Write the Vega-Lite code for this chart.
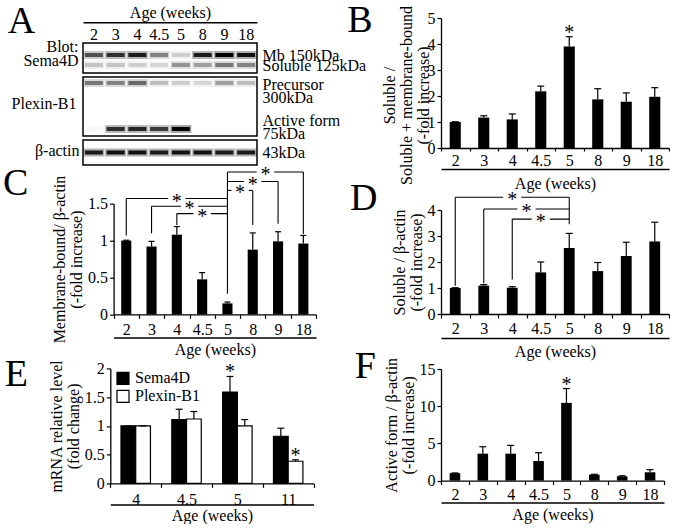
{
"$schema": "https://vega.github.io/schema/vega-lite/v6.json",
"background": "white",
"padding": {"left": 2, "top": 1, "right": 0, "bottom": 0},
"datasets": {
 "blotSema": [
  {"lane":"2","band":"Mb 150kDa","intensity":0.6},{"lane":"3","band":"Mb 150kDa","intensity":0.75},{"lane":"4","band":"Mb 150kDa","intensity":0.85},{"lane":"4.5","band":"Mb 150kDa","intensity":0.4},{"lane":"5","band":"Mb 150kDa","intensity":0.15},{"lane":"8","band":"Mb 150kDa","intensity":0.85},{"lane":"9","band":"Mb 150kDa","intensity":1.0},{"lane":"18","band":"Mb 150kDa","intensity":0.9},
  {"lane":"2","band":"Soluble 125kDa","intensity":0.18},{"lane":"3","band":"Soluble 125kDa","intensity":0.18},{"lane":"4","band":"Soluble 125kDa","intensity":0.15},{"lane":"4.5","band":"Soluble 125kDa","intensity":0.12},{"lane":"5","band":"Soluble 125kDa","intensity":0.35},{"lane":"8","band":"Soluble 125kDa","intensity":0.3},{"lane":"9","band":"Soluble 125kDa","intensity":0.45},{"lane":"18","band":"Soluble 125kDa","intensity":0.4}
 ],
 "blotPlexin": [
  {"lane":"2","band":"Precursor 300kDa","intensity":0.45},{"lane":"3","band":"Precursor 300kDa","intensity":0.4},{"lane":"4","band":"Precursor 300kDa","intensity":0.5},{"lane":"4.5","band":"Precursor 300kDa","intensity":0.2},{"lane":"5","band":"Precursor 300kDa","intensity":0.15},{"lane":"8","band":"Precursor 300kDa","intensity":0.12},{"lane":"9","band":"Precursor 300kDa","intensity":0.3},{"lane":"18","band":"Precursor 300kDa","intensity":0.2},
  {"lane":"2","band":"Active form 75kDa","intensity":0.02},{"lane":"3","band":"Active form 75kDa","intensity":0.75},{"lane":"4","band":"Active form 75kDa","intensity":0.8},{"lane":"4.5","band":"Active form 75kDa","intensity":0.7},{"lane":"5","band":"Active form 75kDa","intensity":1.0},{"lane":"8","band":"Active form 75kDa","intensity":0.0},{"lane":"9","band":"Active form 75kDa","intensity":0.0},{"lane":"18","band":"Active form 75kDa","intensity":0.0}
 ],
 "blotActin": [
  {"lane":"2","band":"43kDa","intensity":0.85},{"lane":"3","band":"43kDa","intensity":0.9},{"lane":"4","band":"43kDa","intensity":0.9},{"lane":"4.5","band":"43kDa","intensity":0.85},{"lane":"5","band":"43kDa","intensity":0.9},{"lane":"8","band":"43kDa","intensity":0.9},{"lane":"9","band":"43kDa","intensity":0.85},{"lane":"18","band":"43kDa","intensity":0.85}
 ],
 "B": [
  {"age":"2","mean":1.0,"err":1.01,"sig":false},{"age":"3","mean":1.17,"err":1.24,"sig":false},{"age":"4","mean":1.10,"err":1.31,"sig":false},{"age":"4.5","mean":2.18,"err":2.38,"sig":false},{"age":"5","mean":3.90,"err":4.28,"sig":true},{"age":"8","mean":1.87,"err":2.28,"sig":false},{"age":"9","mean":1.78,"err":2.12,"sig":false},{"age":"18","mean":1.97,"err":2.32,"sig":false}
 ],
 "C": [
  {"age":"2","mean":1.0,"err":1.005},{"age":"3","mean":0.92,"err":0.99},{"age":"4","mean":1.08,"err":1.19},{"age":"4.5","mean":0.475,"err":0.566},{"age":"5","mean":0.149,"err":0.167},{"age":"8","mean":0.878,"err":1.104},{"age":"9","mean":0.99,"err":1.12},{"age":"18","mean":0.96,"err":1.07}
 ],
 "Cv": [
  {"x":"2","y1":1.07,"y2":1.57},{"x":"3","y1":1.10,"y2":1.465},{"x":"4","y1":1.21,"y2":1.366},{"x":"5","y1":0.28,"y2":1.93},{"x":"8","y1":1.21,"y2":1.68},{"x":"9","y1":1.23,"y2":1.80},{"x":"18","y1":1.09,"y2":1.93}
 ],
 "Ch": [
  {"from":"2","to":"5","level":1.57,"star":"4","at":"center"},{"from":"3","to":"5","level":1.465,"star":"4","at":"edge"},{"from":"4","to":"5","level":1.366,"star":"4.5","at":"center"},{"from":"5","to":"8","level":1.68,"star":"5","at":"edge"},{"from":"5","to":"9","level":1.80,"star":"8","at":"center"},{"from":"5","to":"18","level":1.93,"star":"8","at":"edge"}
 ],
 "D": [
  {"age":"2","mean":1.0,"err":1.01},{"age":"3","mean":1.09,"err":1.13},{"age":"4","mean":1.01,"err":1.05},{"age":"4.5","mean":1.60,"err":2.0},{"age":"5","mean":2.54,"err":3.10},{"age":"8","mean":1.65,"err":1.98},{"age":"9","mean":2.23,"err":2.76},{"age":"18","mean":2.79,"err":3.53}
 ],
 "Dv": [
  {"x":"2","y1":1.09,"y2":4.49},{"x":"3","y1":1.18,"y2":4.04},{"x":"4","y1":1.33,"y2":3.65},{"x":"5","y1":3.45,"y2":4.49}
 ],
 "Dh": [
  {"from":"2","to":"5","level":4.49,"star":"4","at":"center"},{"from":"3","to":"5","level":4.04,"star":"4","at":"edge"},{"from":"4","to":"5","level":3.65,"star":"4.5","at":"center"}
 ],
 "E": [
  {"age":"4","gene":"Sema4D","mean":1.0,"err":1.0,"sig":false},{"age":"4","gene":"Plexin-B1","mean":1.0,"err":1.0,"sig":false},
  {"age":"4.5","gene":"Sema4D","mean":1.11,"err":1.29,"sig":false},{"age":"4.5","gene":"Plexin-B1","mean":1.12,"err":1.25,"sig":false},
  {"age":"5","gene":"Sema4D","mean":1.59,"err":1.86,"sig":true},{"age":"5","gene":"Plexin-B1","mean":1.0,"err":1.11,"sig":false},
  {"age":"11","gene":"Sema4D","mean":0.82,"err":0.96,"sig":false},{"age":"11","gene":"Plexin-B1","mean":0.385,"err":0.41,"sig":true}
 ],
 "F": [
  {"age":"2","mean":1.0,"err":1.03,"sig":false},{"age":"3","mean":3.62,"err":4.55,"sig":false},{"age":"4","mean":3.62,"err":4.73,"sig":false},{"age":"4.5","mean":2.63,"err":3.75,"sig":false},{"age":"5","mean":10.45,"err":12.37,"sig":true},{"age":"8","mean":0.80,"err":0.85,"sig":false},{"age":"9","mean":0.58,"err":0.65,"sig":false},{"age":"18","mean":1.12,"err":1.47,"sig":false}
 ]
},
"concat": [
 {
  "concat": [
   {
    "vconcat": [
     {
      "width": 174, "height": 20.3,
      "data": {"name": "blotActin"},
      "mark": {"type": "tick", "opacity": 0},
      "encoding": {
       "x": {"field": "lane", "type": "ordinal", "scale": {"domain": ["2","3","4","4.5","5","8","9","18"], "paddingInner": 0, "paddingOuter": 0}, "axis": {"orient": "top", "offset": -4.3, "ticks": false, "domainWidth": 1.5, "labelAngle": 0, "labelPadding": -11.7, "labelBaseline": "middle", "title": "Age (weeks)", "titlePadding": 2}}
      }
     },
     {
      "width": 174, "height": 30,
      "view": {"stroke": "black", "strokeWidth": 1.5, "fill": "white"},
      "data": {"name": "blotSema"},
      "layer": [
       {"mark": {"type": "tick", "orient": "horizontal", "color": "black", "size": 21, "thickness": 8, "fillOpacity": 0.35},
        "encoding": {
         "x": {"field": "lane", "type": "ordinal", "scale": {"domain": ["2","3","4","4.5","5","8","9","18"], "paddingInner": 0, "paddingOuter": 0}, "axis": null},
         "y": {"field": "band", "type": "ordinal", "scale": {"type": "point", "domain": ["Mb 150kDa", "Soluble 125kDa"], "padding": 1, "align": 0.6}, "axis": {"orient": "right", "ticks": false, "domain": false, "labelPadding": 5, "labelBaseline": "middle", "title": null}},
         "opacity": {"field": "intensity", "type": "quantitative", "scale": {"domain": [0, 1], "range": [0, 1]}, "legend": null}
        }},
       {"mark": {"type": "tick", "orient": "horizontal", "color": "black", "size": 18, "thickness": 4, "fillOpacity": 1},
        "encoding": {
         "x": {"field": "lane", "type": "ordinal", "axis": {"orient": "top", "domain": false, "labels": false, "ticks": false, "title": "A", "titleFontSize": 38, "titleAlign": "left", "titleBaseline": "top", "titleX": -75.7, "titleY": -41}},
         "y": {"field": "band", "type": "ordinal", "axis": {"orient": "left", "labels": false, "ticks": false, "domain": false, "title": ["Blot:", "Sema4D"], "titleAngle": 0, "titleAlign": "right", "titleBaseline": "middle", "titleX": -5, "titleY": 3, "titleLineHeight": 14}},
         "opacity": {"field": "intensity", "type": "quantitative", "legend": null}
        }}
      ],
      "resolve": {"axis": {"x": "independent", "y": "independent"}}
     },
     {
      "width": 174, "height": 59,
      "view": {"stroke": "black", "strokeWidth": 1.5, "fill": "white"},
      "data": {"name": "blotPlexin"},
      "layer": [
       {"mark": {"type": "tick", "orient": "horizontal", "color": "black", "size": 21, "thickness": 8, "fillOpacity": 0.35},
        "encoding": {
         "x": {"field": "lane", "type": "ordinal", "scale": {"domain": ["2","3","4","4.5","5","8","9","18"], "paddingInner": 0, "paddingOuter": 0}, "axis": null},
         "y": {"field": "band", "type": "ordinal", "scale": {"type": "point", "domain": ["Precursor 300kDa", "Active form 75kDa"], "padding": 0.141, "align": 0.46}, "axis": {"orient": "right", "ticks": false, "domain": false, "labelPadding": 5, "labelBaseline": "middle", "labelLineHeight": 13, "labelOffset": {"condition": {"test": "datum.value == 'Precursor 300kDa'", "value": 2}, "value": -8}, "labelExpr": "[slice(datum.label, 0, lastindexof(datum.label, ' ')), slice(datum.label, lastindexof(datum.label, ' ') + 1)]", "title": null}},
         "opacity": {"field": "intensity", "type": "quantitative", "scale": {"domain": [0, 1], "range": [0, 1]}, "legend": null}
        }},
       {"mark": {"type": "tick", "orient": "horizontal", "color": "black", "size": 18, "thickness": 4, "fillOpacity": 1},
        "encoding": {
         "x": {"field": "lane", "type": "ordinal", "axis": null},
         "y": {"field": "band", "type": "ordinal", "axis": {"orient": "left", "labels": false, "ticks": false, "domain": false, "title": "Plexin-B1", "titleAngle": 0, "titleAlign": "right", "titleBaseline": "middle", "titleX": -7, "titleY": 26}},
         "opacity": {"field": "intensity", "type": "quantitative", "legend": null}
        }}
      ],
      "resolve": {"axis": {"x": "independent", "y": "independent"}}
     },
     {
      "width": 174, "height": 25,
      "view": {"stroke": "black", "strokeWidth": 1.5, "fill": "white"},
      "data": {"name": "blotActin"},
      "layer": [
       {"mark": {"type": "tick", "orient": "horizontal", "color": "black", "size": 21, "thickness": 8, "fillOpacity": 0.35},
        "encoding": {
         "x": {"field": "lane", "type": "ordinal", "scale": {"domain": ["2","3","4","4.5","5","8","9","18"], "paddingInner": 0, "paddingOuter": 0}, "axis": null},
         "y": {"field": "band", "type": "ordinal", "scale": {"type": "point", "domain": ["43kDa"]}, "axis": {"orient": "right", "ticks": false, "domain": false, "labelPadding": 5, "labelBaseline": "middle", "title": null}},
         "opacity": {"field": "intensity", "type": "quantitative", "scale": {"domain": [0, 1], "range": [0, 1]}, "legend": null}
        }},
       {"mark": {"type": "tick", "orient": "horizontal", "color": "black", "size": 18, "thickness": 4, "fillOpacity": 1},
        "encoding": {
         "x": {"field": "lane", "type": "ordinal", "axis": null},
         "y": {"field": "band", "type": "ordinal", "axis": {"orient": "left", "labels": false, "ticks": false, "domain": false, "title": "β-actin", "titleAngle": 0, "titleAlign": "right", "titleBaseline": "middle", "titleX": -4, "titleY": 10}},
         "opacity": {"field": "intensity", "type": "quantitative", "legend": null}
        }}
      ],
      "resolve": {"axis": {"x": "independent", "y": "independent"}}
     }
    ],
    "spacing": 4,
    "bounds": "flush",
    "align": "none"
   },
   {
    "width": 233, "height": 110.7,
    "title": {"text": "C", "orient": "left", "anchor": "end", "frame": "group", "angle": 0, "align": "right", "baseline": "top", "offset": -2, "dy": -39},
    "layer": [
     {"data": {"name": "C"}, "mark": {"type": "bar", "color": "black", "width": {"band": 0.4}},
      "encoding": {
       "x": {"field": "age", "type": "ordinal", "scale": {"domain": ["2","3","4","4.5","5","8","9","18"], "paddingInner": 0, "paddingOuter": 0, "rangeMin": 30.6}, "axis": {"orient": "bottom", "title": null, "tickBand": "extent", "tickSize": 4, "labelPadding": 3, "labelAngle": 0}},
       "y": {"field": "mean", "type": "quantitative", "scale": {"domain": [0, 1.5], "nice": false}, "axis": {"offset": -30.6, "values": [0, 0.5, 1, 1.5], "format": "~g", "title": ["Membrane-bound/ β-actin", "(-fold increase)"], "titlePadding": 3}}
      }},
     {"data": {"name": "C"}, "mark": {"type": "rule", "color": "black", "strokeWidth": 1.2},
      "encoding": {
       "x": {"field": "age", "type": "ordinal", "axis": {"orient": "bottom", "offset": 23, "labels": false, "ticks": false, "domainWidth": 1.5, "title": "Age (weeks)", "titlePadding": 4}},
       "y": {"field": "mean", "type": "quantitative", "axis": null},
       "y2": {"field": "err"}
      }},
     {"data": {"name": "C"}, "mark": {"type": "tick", "orient": "horizontal", "color": "black", "size": 6, "thickness": 1.2, "opacity": 1},
      "encoding": {"x": {"field": "age", "type": "ordinal", "axis": null}, "y": {"field": "err", "type": "quantitative", "axis": null}}},
     {"data": {"name": "Cv"}, "mark": {"type": "rule", "color": "black", "strokeWidth": 1.1},
      "encoding": {"x": {"field": "x", "type": "ordinal", "axis": null}, "y": {"field": "y1", "type": "quantitative", "axis": null}, "y2": {"field": "y2"}}},
     {"data": {"name": "Ch"}, "mark": {"type": "rule", "color": "black", "strokeWidth": 1.1},
      "encoding": {"x": {"field": "from", "type": "ordinal", "axis": null}, "x2": {"field": "to"}, "y": {"field": "level", "type": "quantitative", "axis": null}}},
     {"data": {"name": "Ch"}, "transform": [{"filter": "datum.at == 'center'"}], "mark": {"type": "point", "shape": "M-1,-0.3L1,-0.3L1,0.3L-1,0.3Z", "size": 300, "filled": true, "color": "white", "opacity": 1},
      "encoding": {"x": {"field": "star", "type": "ordinal", "axis": null}, "y": {"field": "level", "type": "quantitative", "axis": null}}},
     {"data": {"name": "Ch"}, "transform": [{"filter": "datum.at == 'edge'"}], "mark": {"type": "point", "shape": "M-1,-0.3L1,-0.3L1,0.3L-1,0.3Z", "size": 300, "filled": true, "color": "white", "opacity": 1},
      "encoding": {"x": {"field": "star", "type": "ordinal", "bandPosition": 1, "axis": null}, "y": {"field": "level", "type": "quantitative", "axis": null}}},
     {"data": {"name": "Ch"}, "transform": [{"filter": "datum.at == 'center'"}], "mark": {"type": "text", "text": "*", "fontSize": 20, "baseline": "alphabetic", "dy": 9},
      "encoding": {"x": {"field": "star", "type": "ordinal", "axis": null}, "y": {"field": "level", "type": "quantitative", "axis": null}}},
     {"data": {"name": "Ch"}, "transform": [{"filter": "datum.at == 'edge'"}], "mark": {"type": "text", "text": "*", "fontSize": 20, "baseline": "alphabetic", "dy": 9},
      "encoding": {"x": {"field": "star", "type": "ordinal", "bandPosition": 1, "axis": null}, "y": {"field": "level", "type": "quantitative", "axis": null}}}
    ],
    "resolve": {"axis": {"x": "independent", "y": "independent"}}
   },
   {
    "width": 230.6, "height": 115,
    "title": {"text": "E", "orient": "left", "anchor": "end", "frame": "group", "angle": 0, "align": "right", "baseline": "top", "offset": -3, "dy": -12},
    "data": {"name": "E"},
    "layer": [
     {"mark": {"type": "bar", "stroke": "black", "strokeWidth": 1.2},
      "encoding": {
       "x": {"field": "age", "type": "ordinal", "scale": {"domain": ["4","4.5","5","11"], "paddingInner": 0, "paddingOuter": 0, "rangeMin": 27.3}, "axis": {"orient": "bottom", "title": null, "tickBand": "extent", "tickSize": 4, "labelPadding": 4, "labelAngle": 0}},
       "xOffset": {"field": "gene", "type": "nominal", "scale": {"domain": ["Sema4D", "Plexin-B1"], "paddingOuter": 0.726, "paddingInner": 0}},
       "y": {"field": "mean", "type": "quantitative", "scale": {"domain": [0, 2], "nice": false}, "axis": {"offset": -27.3, "values": [0, 0.5, 1, 1.5, 2], "format": "~g", "title": ["mRNA relative level", "(fold change)"], "titlePadding": 3}},
       "fill": {"field": "gene", "type": "nominal", "scale": {"domain": ["Sema4D", "Plexin-B1"], "range": ["black", "white"]}, "legend": {"orient": "none", "legendX": 32, "legendY": 2, "title": null, "symbolType": "square", "symbolStrokeColor": "black", "symbolStrokeWidth": 1.2, "symbolSize": 144, "labelFontSize": 16, "rowPadding": 0, "labelOffset": 4, "padding": 0}}
      }},
     {"mark": {"type": "rule", "color": "black", "strokeWidth": 1.2},
      "encoding": {
       "x": {"field": "age", "type": "ordinal", "axis": {"orient": "bottom", "offset": 21, "labels": false, "ticks": false, "domainWidth": 1.5, "title": "Age (weeks)", "titlePadding": 3}},
       "xOffset": {"field": "gene", "type": "nominal"},
       "y": {"field": "mean", "type": "quantitative", "axis": null},
       "y2": {"field": "err"}
      }},
     {"mark": {"type": "tick", "orient": "horizontal", "color": "black", "size": 7, "thickness": 1.2, "opacity": 1},
      "encoding": {"x": {"field": "age", "type": "ordinal", "axis": null}, "xOffset": {"field": "gene", "type": "nominal"}, "y": {"field": "err", "type": "quantitative", "axis": null}}},
     {"transform": [{"filter": "datum.sig"}], "mark": {"type": "text", "text": "*", "fontSize": 20, "baseline": "alphabetic", "dy": 2},
      "encoding": {"x": {"field": "age", "type": "ordinal", "axis": null}, "xOffset": {"field": "gene", "type": "nominal"}, "y": {"field": "err", "type": "quantitative", "axis": null}}}
    ],
    "resolve": {"axis": {"x": "independent", "y": "independent"}}
   }
  ],
  "columns": 1,
  "spacing": -1.3,
  "align": "none",
  "resolve": {"legend": {"fill": "independent", "opacity": "independent"}}
 },
 {
  "concat": [
   {
    "width": 228, "height": 130,
    "title": {"text": "B", "orient": "left", "anchor": "end", "frame": "group", "angle": 0, "align": "right", "baseline": "top", "offset": -17, "dy": -16},
    "data": {"name": "B"},
    "layer": [
     {"mark": {"type": "bar", "color": "black", "width": {"band": 0.39}},
      "encoding": {
       "x": {"field": "age", "type": "ordinal", "scale": {"domain": ["2","3","4","4.5","5","8","9","18"], "paddingInner": 0, "paddingOuter": 0}, "axis": {"orient": "bottom", "title": null, "tickBand": "extent", "tickSize": 3, "labelPadding": 1, "labelAngle": 0}},
       "y": {"field": "mean", "type": "quantitative", "scale": {"domain": [0, 5], "nice": false}, "axis": {"values": [0, 1, 2, 3, 4, 5], "format": "~g", "title": ["Soluble /", "Soluble + membrane-bound", "(-fold increase)"], "titlePadding": -4, "titleY": 77}}
      }},
     {"mark": {"type": "rule", "color": "black", "strokeWidth": 1.2},
      "encoding": {
       "x": {"field": "age", "type": "ordinal", "axis": {"orient": "bottom", "offset": 21, "labels": false, "ticks": false, "domainWidth": 1.5, "title": "Age (weeks)", "titlePadding": 6}},
       "y": {"field": "mean", "type": "quantitative", "axis": null},
       "y2": {"field": "err"}
      }},
     {"mark": {"type": "tick", "orient": "horizontal", "color": "black", "size": 7, "thickness": 1.2, "opacity": 1},
      "encoding": {"x": {"field": "age", "type": "ordinal", "axis": null}, "y": {"field": "err", "type": "quantitative", "axis": null}}},
     {"transform": [{"filter": "datum.sig"}], "mark": {"type": "text", "text": "*", "fontSize": 20, "baseline": "alphabetic", "dy": 2},
      "encoding": {"x": {"field": "age", "type": "ordinal", "axis": null}, "y": {"field": "err", "type": "quantitative", "axis": null}}}
    ],
    "resolve": {"axis": {"x": "independent", "y": "independent"}}
   },
   {
    "width": 228, "height": 104,
    "title": {"text": "D", "orient": "left", "anchor": "end", "frame": "group", "angle": 0, "align": "right", "baseline": "top", "offset": -14, "dy": -30},
    "layer": [
     {"data": {"name": "D"}, "mark": {"type": "bar", "color": "black", "width": {"band": 0.38}},
      "encoding": {
       "x": {"field": "age", "type": "ordinal", "scale": {"domain": ["2","3","4","4.5","5","8","9","18"], "paddingInner": 0, "paddingOuter": 0}, "axis": {"orient": "bottom", "title": null, "tickBand": "extent", "tickSize": 4, "labelPadding": 2, "labelAngle": 0}},
       "y": {"field": "mean", "type": "quantitative", "scale": {"domain": [0, 4], "nice": false}, "axis": {"values": [0, 1, 2, 3, 4], "format": "~g", "title": ["Soluble / β-actin", "(-fold increase)"], "titlePadding": 3}}
      }},
     {"data": {"name": "D"}, "mark": {"type": "rule", "color": "black", "strokeWidth": 1.2},
      "encoding": {
       "x": {"field": "age", "type": "ordinal", "axis": {"orient": "bottom", "offset": 24, "labels": false, "ticks": false, "domainWidth": 1.5, "title": "Age (weeks)", "titlePadding": 5}},
       "y": {"field": "mean", "type": "quantitative", "axis": null},
       "y2": {"field": "err"}
      }},
     {"data": {"name": "D"}, "mark": {"type": "tick", "orient": "horizontal", "color": "black", "size": 7, "thickness": 1.2, "opacity": 1},
      "encoding": {"x": {"field": "age", "type": "ordinal", "axis": null}, "y": {"field": "err", "type": "quantitative", "axis": null}}},
     {"data": {"name": "Dv"}, "mark": {"type": "rule", "color": "black", "strokeWidth": 1.1},
      "encoding": {"x": {"field": "x", "type": "ordinal", "axis": null}, "y": {"field": "y1", "type": "quantitative", "axis": null}, "y2": {"field": "y2"}}},
     {"data": {"name": "Dh"}, "mark": {"type": "rule", "color": "black", "strokeWidth": 1.1},
      "encoding": {"x": {"field": "from", "type": "ordinal", "axis": null}, "x2": {"field": "to"}, "y": {"field": "level", "type": "quantitative", "axis": null}}},
     {"data": {"name": "Dh"}, "transform": [{"filter": "datum.at == 'center'"}], "mark": {"type": "point", "shape": "M-1,-0.3L1,-0.3L1,0.3L-1,0.3Z", "size": 330, "filled": true, "color": "white", "opacity": 1},
      "encoding": {"x": {"field": "star", "type": "ordinal", "axis": null}, "y": {"field": "level", "type": "quantitative", "axis": null}}},
     {"data": {"name": "Dh"}, "transform": [{"filter": "datum.at == 'edge'"}], "mark": {"type": "point", "shape": "M-1,-0.3L1,-0.3L1,0.3L-1,0.3Z", "size": 330, "filled": true, "color": "white", "opacity": 1},
      "encoding": {"x": {"field": "star", "type": "ordinal", "bandPosition": 1, "axis": null}, "y": {"field": "level", "type": "quantitative", "axis": null}}},
     {"data": {"name": "Dh"}, "transform": [{"filter": "datum.at == 'center'"}], "mark": {"type": "text", "text": "*", "fontSize": 20, "baseline": "alphabetic", "dy": 9},
      "encoding": {"x": {"field": "star", "type": "ordinal", "axis": null}, "y": {"field": "level", "type": "quantitative", "axis": null}}},
     {"data": {"name": "Dh"}, "transform": [{"filter": "datum.at == 'edge'"}], "mark": {"type": "text", "text": "*", "fontSize": 20, "baseline": "alphabetic", "dy": 9},
      "encoding": {"x": {"field": "star", "type": "ordinal", "bandPosition": 1, "axis": null}, "y": {"field": "level", "type": "quantitative", "axis": null}}}
    ],
    "resolve": {"axis": {"x": "independent", "y": "independent"}}
   },
   {
    "width": 223, "height": 111.6,
    "title": {"text": "F", "orient": "left", "anchor": "end", "frame": "group", "angle": 0, "align": "right", "baseline": "top", "offset": -14, "dy": -21},
    "data": {"name": "F"},
    "layer": [
     {"mark": {"type": "bar", "color": "black", "width": {"band": 0.38}},
      "encoding": {
       "x": {"field": "age", "type": "ordinal", "scale": {"domain": ["2","3","4","4.5","5","8","9","18"], "paddingInner": 0, "paddingOuter": 0}, "axis": {"orient": "bottom", "title": null, "tickBand": "extent", "tickSize": 4, "labelPadding": 2, "labelAngle": 0}},
       "y": {"field": "mean", "type": "quantitative", "scale": {"domain": [0, 15], "nice": false}, "axis": {"values": [0, 5, 10, 15], "format": "~g", "title": ["Active form / β-actin", "(-fold increase)"], "titlePadding": 3}}
      }},
     {"mark": {"type": "rule", "color": "black", "strokeWidth": 1.2},
      "encoding": {
       "x": {"field": "age", "type": "ordinal", "axis": {"orient": "bottom", "offset": 22, "labels": false, "ticks": false, "domainWidth": 1.5, "title": "Age (weeks)", "titlePadding": 4}},
       "y": {"field": "mean", "type": "quantitative", "axis": null},
       "y2": {"field": "err"}
      }},
     {"mark": {"type": "tick", "orient": "horizontal", "color": "black", "size": 7, "thickness": 1.2, "opacity": 1},
      "encoding": {"x": {"field": "age", "type": "ordinal", "axis": null}, "y": {"field": "err", "type": "quantitative", "axis": null}}},
     {"transform": [{"filter": "datum.sig"}], "mark": {"type": "text", "text": "*", "fontSize": 20, "baseline": "alphabetic", "dy": 2},
      "encoding": {"x": {"field": "age", "type": "ordinal", "axis": null}, "y": {"field": "err", "type": "quantitative", "axis": null}}}
    ],
    "resolve": {"axis": {"x": "independent", "y": "independent"}}
   }
  ],
  "columns": 1,
  "spacing": -11,
  "align": "none"
 }
],
"columns": 2,
"align": "none",
"spacing": -20,
"resolve": {"legend": {"fill": "independent", "opacity": "independent"}},
"config": {
 "font": "Liberation Serif",
 "view": {"stroke": null},
 "axis": {"domainColor": "black", "tickColor": "black", "labelColor": "black", "titleColor": "black", "labelFontSize": 16, "titleFontSize": 16, "titleFontWeight": "normal", "grid": false, "domainWidth": 1.3, "tickWidth": 1.2, "titleLineHeight": 17, "labelOverlap": false, "labelFont": "Liberation Serif", "titleFont": "Liberation Serif", "titleLimit": 1000, "labelLimit": 1000},
 "axisY": {"tickSize": 4, "labelPadding": 2},
 "title": {"font": "Liberation Serif", "fontWeight": "normal", "fontSize": 38, "color": "black"},
 "legend": {"labelFont": "Liberation Serif", "labelFontSize": 16, "labelColor": "black"},
 "text": {"font": "Liberation Serif", "color": "black"}
}
}
